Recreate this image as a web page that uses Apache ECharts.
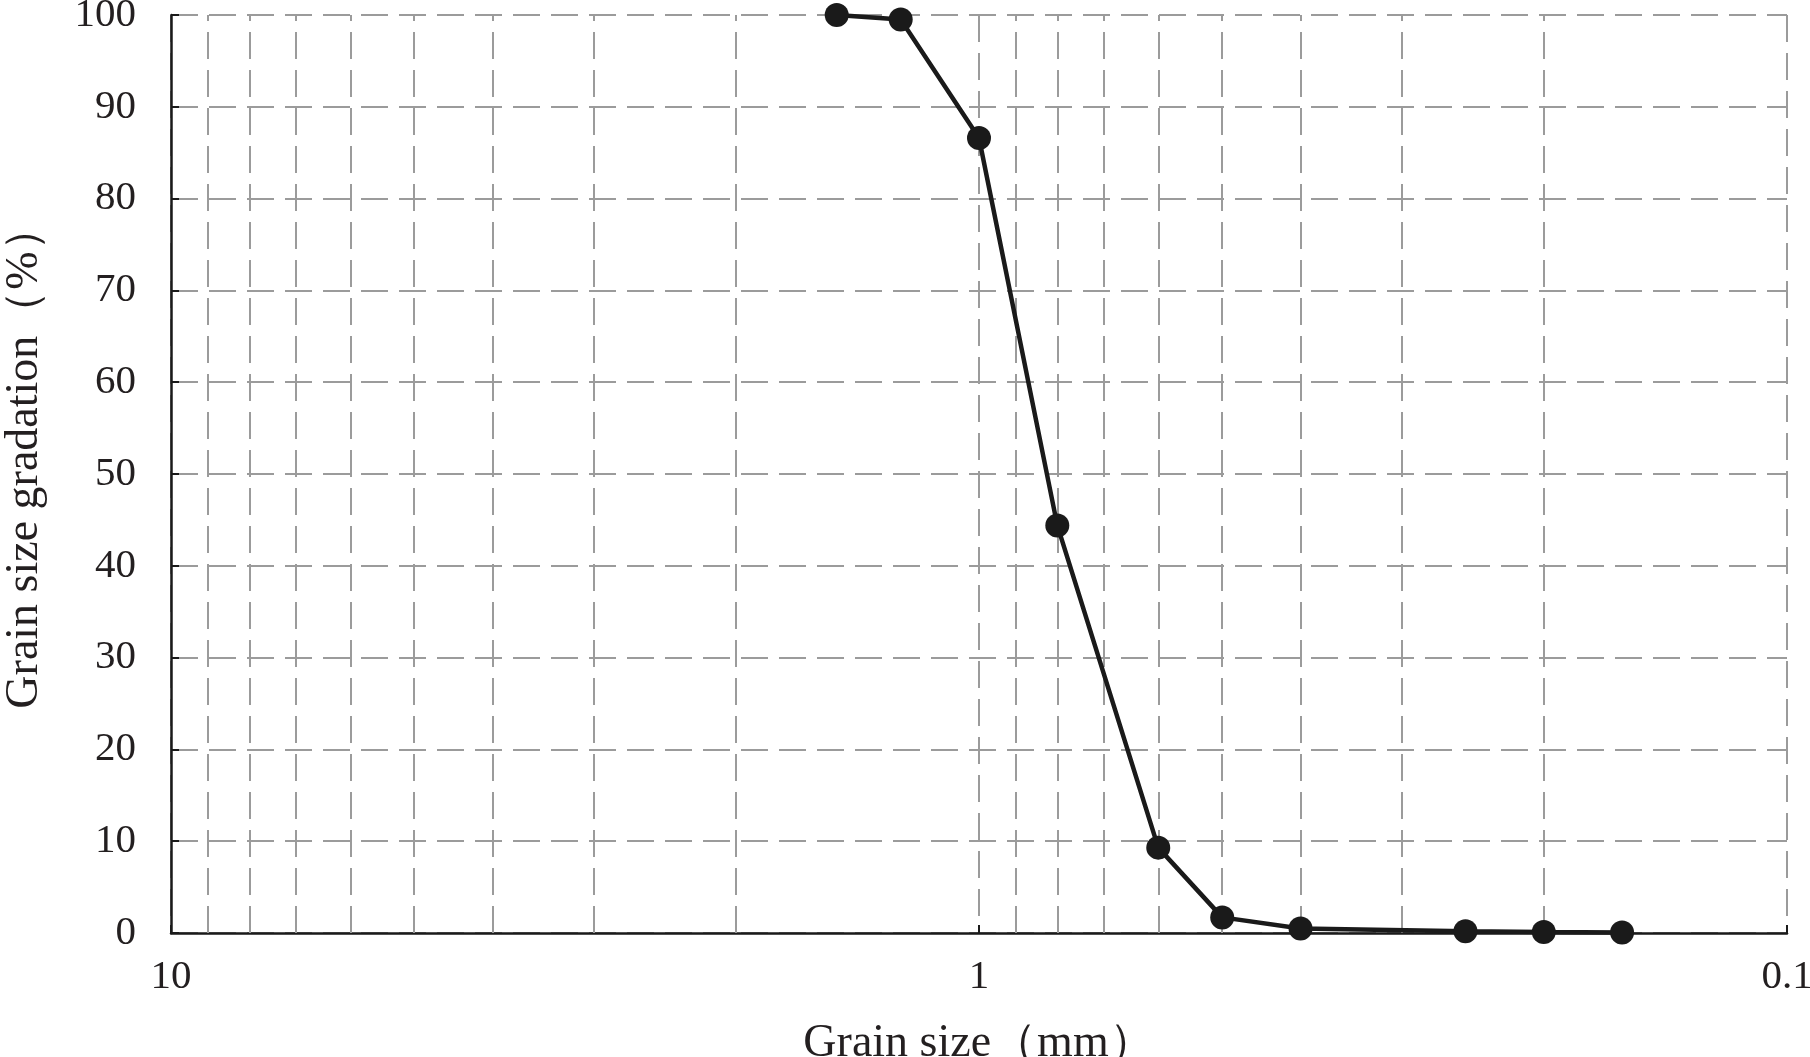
<!DOCTYPE html>
<html>
<head>
<meta charset="utf-8">
<script src="https://cdn.jsdelivr.net/npm/echarts@6/dist/echarts.min.js"></script>
<style>
html,body{margin:0;padding:0;background:#fff;}
#chart{width:1810px;height:1057px;}
</style>
</head>
<body>
<div id="chart"></div>
<script>
// Grain size (mm) and cumulative gradation (%)
const grainSize = [1.5, 1.25, 1.0, 0.8, 0.6, 0.5, 0.4, 0.25, 0.2, 0.16];
const gradation = [100, 99.5, 86.6, 44.4, 9.3, 1.7, 0.5, 0.2, 0.1, 0.05];
// log-scale minor gridline positions
const minorGrid = [9, 8, 7, 6, 5, 4, 3, 2, 0.9, 0.8, 0.7, 0.6, 0.5, 0.4, 0.3, 0.2];
const xTickLabels = ['10', '1', '0.1'];

const FONT = '"Liberation Serif", "Times New Roman", serif';
const TXT = '#231f20';
const GRID_COLOR = '#9b9b9b';
const DASH = [27, 11];

const chart = echarts.init(document.getElementById('chart'));
chart.setOption({
  backgroundColor: '#fff',
  animation: false,
  grid: { left: 171, right: 23, top: 15, bottom: 124, containLabel: false, outerBoundsMode: 'none' },
  xAxis: {
    type: 'log',
    logBase: 10,
    min: 0.1,
    max: 10,
    inverse: true,
    name: 'Grain size（mm）',
    nameLocation: 'middle',
    nameGap: 88,
    nameTextStyle: { fontFamily: FONT, fontSize: 46, color: TXT },
    axisLine: { lineStyle: { color: '#1a1a1a', width: 2.5 } },
    axisTick: { show: true, inside: true, length: 8, lineStyle: { color: '#1a1a1a', width: 2 } },
    axisLabel: {
      fontFamily: FONT, fontSize: 41, color: TXT, margin: 24,
      showMinLabel: true, showMaxLabel: true,
      formatter: function (v) {
        const s = String(+v.toPrecision(3));
        return xTickLabels.indexOf(s) >= 0 ? s : '';
      }
    },
    splitLine: { show: true, lineStyle: { color: GRID_COLOR, width: 2, type: DASH } },
    minorTick: { show: false },
    minorSplitLine: { show: false }
  },
  yAxis: {
    type: 'value',
    min: 0,
    max: 100,
    interval: 10,
    name: 'Grain size gradation（%）',
    nameLocation: 'middle',
    nameGap: 123,
    nameTextStyle: { fontFamily: FONT, fontSize: 46, color: TXT, padding: [0, 0, 0, 34] },
    axisLine: { show: true, lineStyle: { color: '#1a1a1a', width: 2.5 } },
    axisTick: { show: true, inside: true, length: 8, lineStyle: { color: '#1a1a1a', width: 2 } },
    axisLabel: { fontFamily: FONT, fontSize: 41, color: TXT, margin: 35 },
    splitLine: { show: true, lineStyle: { color: GRID_COLOR, width: 2, type: DASH } }
  },
  series: [
    {
      type: 'line',
      data: [],
      silent: true,
      markLine: {
        z: 1,
        silent: true,
        symbol: ['none', 'none'],
        label: { show: false },
        lineStyle: { color: GRID_COLOR, width: 2, type: DASH },
        emphasis: { disabled: true },
        data: minorGrid.map(v => ({ xAxis: v }))
      }
    },
    {
      type: 'line',
      z: 3,
      data: grainSize.map((g, i) => [g, gradation[i]]),
      symbol: 'circle',
      symbolSize: 24,
      showAllSymbol: true,
      itemStyle: { color: '#1a1a1a' },
      lineStyle: { color: '#1a1a1a', width: 4.5 }
    }
  ]
});
</script>
</body>
</html>
